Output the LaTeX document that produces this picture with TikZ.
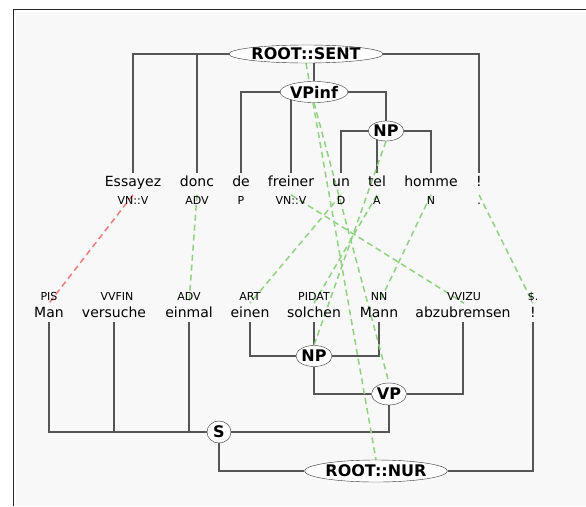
\documentclass[tikz,border=0pt]{standalone}
\usepackage{fontspec}
\setmainfont{DejaVu Sans}
\usetikzlibrary{shapes.geometric,backgrounds}
\definecolor{treegray}{HTML}{555555}
\definecolor{linkgreen}{HTML}{8FD27F}
\definecolor{linkred}{HTML}{EE7B7B}
\definecolor{panel}{HTML}{F8F8F8}
\begin{document}
\begin{tikzpicture}[x=1pt,y=-1pt,
  word/.style={anchor=base,inner sep=2pt,text height=11pt,text depth=3pt,font=\fontsize{14}{16}\selectfont},
  postag/.style={anchor=base,inner sep=1pt,text height=8pt,text depth=2pt,font=\fontsize{11}{13}\selectfont},
  cat/.style={ellipse,draw=black!80,fill=white,inner sep=0pt,minimum height=21pt,font=\bfseries\fontsize{16}{18}\selectfont},
  branch/.style={treegray,line width=1.5pt},
  link/.style={linkgreen,line width=1.5pt,dash pattern=on 6pt off 4pt},
  badlink/.style={link,linkred}]
\useasboundingbox (0,0) rectangle (586,506);
\draw[black!85,line width=1pt] (13,506) -- (13,9) -- (586,9);
% French sentence
\node[word] (w1) at (133,186) {Essayez};
\node[word] (w2) at (197,186) {donc};
\node[word] (w3) at (241,186) {de};
\node[word] (w4) at (291,186) {freiner};
\node[word] (w5) at (341,186) {un};
\node[word] (w6) at (377,186) {tel};
\node[word] (w7) at (431,186) {homme};
\node[word] (w8) at (479,186) {!};
\node[postag] (t1) at (133,204) {VN::V};
\node[postag] (t2) at (197,204) {ADV};
\node[postag] (t3) at (241,204) {P};
\node[postag] (t4) at (291,204) {VN::V};
\node[postag] (t5) at (341,204) {D};
\node[postag] (t6) at (377,204) {A};
\node[postag] (t7) at (431,204) {N};
\node[postag] (t8) at (479,204) {.};
% German sentence
\node[postag] (u1) at (49,300) {PIS};
\node[postag] (u2) at (117,300) {VVFIN};
\node[postag] (u3) at (189,300) {ADV};
\node[postag] (u4) at (250,300) {ART};
\node[postag] (u5) at (314,300) {PIDAT};
\node[postag] (u6) at (379,300) {NN};
\node[postag] (u7) at (464,300) {VVIZU};
\node[postag] (u8) at (533,300) {\$.};
\node[word] (v1) at (49,317) {Man};
\node[word] (v2) at (114,317) {versuche};
\node[word] (v3) at (189,317) {einmal};
\node[word] (v4) at (250,317) {einen};
\node[word] (v5) at (314,317) {solchen};
\node[word] (v6) at (379,317) {Mann};
\node[word] (v7) at (463,317) {abzubremsen};
\node[word] (v8) at (533,317) {!};
% categories
\node[cat,minimum width=116pt,minimum height=18pt] (sent) at (306,54) {ROOT::SENT};
\node[cat,minimum width=56pt] (vpinf) at (314,92) {VPinf};
\node[cat,minimum width=34pt,minimum height=20pt] (np1) at (386,131) {NP};
\node[cat,minimum width=36pt] (np2) at (314,356) {NP};
\node[cat,minimum width=35pt,minimum height=22pt] (vp) at (389,394) {VP};
\node[cat,minimum width=24pt,minimum height=22pt] (s) at (219,432) {S};
\node[cat,minimum width=107pt,minimum height=22pt] (nur) at (376,471) {ROOT::NUR};
\begin{scope}[on background layer]
\fill[panel] (16,12) rectangle (586,506);
% trees
\draw[branch] (w1.north) |- (sent);
\draw[branch] (w2.north) |- (sent);
\draw[branch] (w8.north) |- (sent);
\draw[branch] (vpinf) -- (vpinf |- sent);
\draw[branch] (w3.north) |- (vpinf);
\draw[branch] (w4.north) |- (vpinf);
\draw[branch] (np1) |- (vpinf);
\draw[branch] (w5.north) |- (np1);
\draw[branch] (w6.north) |- (np1);
\draw[branch] (w7.north) |- (np1);
\draw[branch] (v4.south) |- (np2);
\draw[branch] (v5.south) -- (np2);
\draw[branch] (v6.south) |- (np2);
\draw[branch] (np2) |- (vp);
\draw[branch] (v7.south) |- (vp);
\draw[branch] (v1.south) |- (s);
\draw[branch] (v2.south) |- (s);
\draw[branch] (v3.south) |- (s);
\draw[branch] (vp) |- (s);
\draw[branch] (s) |- (nur);
\draw[branch] (v8.south) |- (nur);
% alignment
\draw[badlink] (t1.north) -- (u1.south);
\draw[link] (t2.north) -- (u3.south);
\draw[link] (t4.north) -- (u7.south);
\draw[link] (t5.north) -- (u4.south);
\draw[link] (t6.north) -- (u5.south);
\draw[link] (t7.north) -- (u6.south);
\draw[link] (t8.north) -- (u8.south);
\draw[link] (sent.south) -- (nur.north);
\draw[link] (vpinf.south) -- (vp.north);
\draw[link] (np1.south) -- (np2.north);
\end{scope}
\end{tikzpicture}
\end{document}
